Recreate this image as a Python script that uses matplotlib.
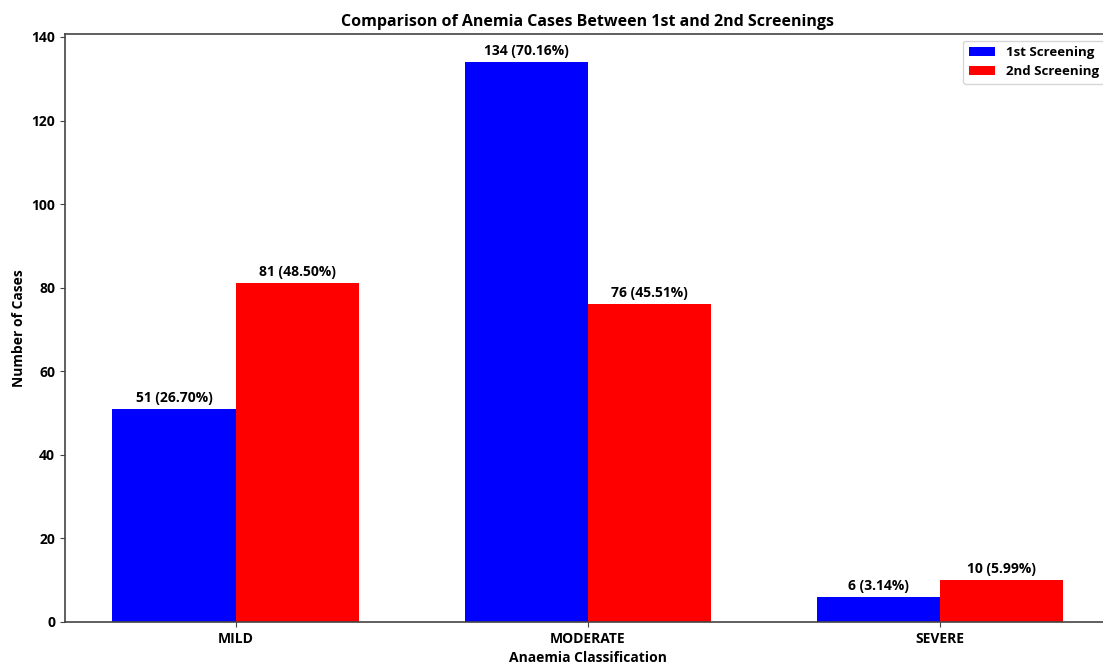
import matplotlib
matplotlib.use('Agg')
import matplotlib.pyplot as plt
import numpy as np

categories = ['MILD', 'MODERATE', 'SEVERE']
first = [51, 134, 6]
second = [81, 76, 10]
first_pct = ['26.70%', '70.16%', '3.14%']
second_pct = ['48.50%', '45.51%', '5.99%']

plt.rcParams['font.family'] = ['Open Sans', 'DejaVu Sans']
plt.rcParams['font.weight'] = 'bold'

fig = plt.figure(figsize=(11.03, 6.64), dpi=100)
ax = fig.add_axes([0.0589, 0.0633, 0.948, 0.8855])

x = np.arange(len(categories))
w = 0.35
b1 = ax.bar(x - w / 2, first, w, color='blue', label='1st Screening')
b2 = ax.bar(x + w / 2, second, w, color='red', label='2nd Screening')

for bars, vals, pcts in [(b1, first, first_pct), (b2, second, second_pct)]:
    for bar, v, p in zip(bars, vals, pcts):
        ax.annotate(f'{v} ({p})', (bar.get_x() + bar.get_width() / 2, v),
                    xytext=(0, 3), textcoords='offset points',
                    ha='center', va='bottom', fontsize=10, fontweight='bold')

ax.set_xticks(x)
ax.set_xticklabels(categories)
ax.tick_params(labelsize=10, color='#444444')
for lab in ax.get_xticklabels() + ax.get_yticklabels():
    lab.set_fontweight('bold')
for s in ax.spines.values():
    s.set_color('#444444')
    s.set_linewidth(1.2)
ax.set_xlabel('Anaemia Classification', fontsize=10, fontweight='bold')
ax.set_ylabel('Number of Cases', fontsize=10, fontweight='bold')
ax.set_title('Comparison of Anemia Cases Between 1st and 2nd Screenings',
             fontsize=11.5, fontweight='bold')
ax.legend(loc='upper right', prop={'size': 9.5, 'weight': 'bold'})

fig.savefig('out.png', dpi=100)
